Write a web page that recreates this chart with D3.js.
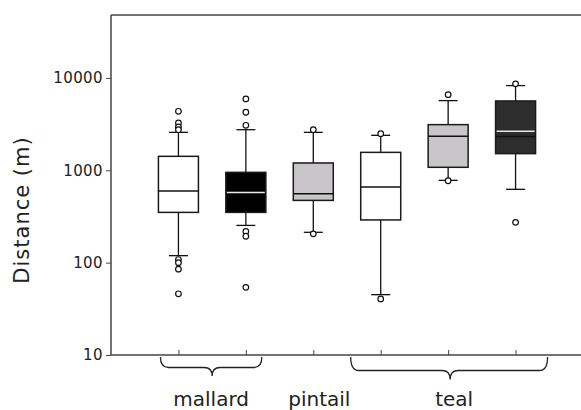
<!DOCTYPE html>
<html>
<head>
<meta charset="utf-8">
<script src="https://cdn.jsdelivr.net/npm/d3@7"></script>
<style>
  html, body { margin: 0; padding: 0; background: #fff; }
  svg { display: block; }
  text { font-family: "DejaVu Sans", Verdana, sans-serif; fill: #222; }
</style>
</head>
<body>
<svg id="chart" width="581" height="410"></svg>
<script>
// ---- data ----
const boxes = ["mallard-1", "mallard-2", "pintail", "teal-1", "teal-2", "teal-3"];
const q1 = [350, 350, 472, 290, 1077, 1514];
const median = [598, 573, 558, 661, 2330, 2320];
const q3 = [1416, 950, 1200, 1563, 3120, 5630];
const whiskerLow = [119, 253, 213, 45, 778, 622];
const whiskerHigh = [2575, 2750, 2575, 2390, 5680, 8260];
const meanLine = [null, 573, null, null, null, 2640];
const outliers = [
  [4350, 3260, 2950, 2750, 108, 100, 85, 46],
  [5930, 4250, 3070, 218, 193, 54],
  [2750, 205],
  [2490, 40.5],
  [6590, 770],
  [8630, 273]
];
const yTicks = [10, 100, 1000, 10000];
const groups = [
  { name: "mallard", from: 0, to: 1 },
  { name: "pintail", from: 2, to: 2 },
  { name: "teal", from: 3, to: 5 }
];
const yTitle = "Distance (m)";

// ---- styles ----
const fills = ["#ffffff", "#000000", "#c8c6c9", "#ffffff", "#c8c6c9", "#2d2d2d"];

const svg = d3.select("#chart");
const pLeft = 111, pRight = 583, pTop = 15, pBottom = 355;

const x = d3.scalePoint().domain(boxes).range([pLeft, pRight]).padding(1);
const y = d3.scaleLog().domain([10, 48000]).range([pBottom, pTop]);

const axisColor = "#444";

// frame lines: top, bottom
svg.append("line").attr("x1", pLeft).attr("x2", 581).attr("y1", pTop).attr("y2", pTop)
  .attr("stroke", axisColor).attr("stroke-width", 1.5);
svg.append("line").attr("x1", pLeft).attr("x2", 581).attr("y1", pBottom).attr("y2", pBottom)
  .attr("stroke", axisColor).attr("stroke-width", 1.5);

// y axis
const yAxis = d3.axisLeft(y).tickValues(yTicks).tickFormat(d3.format("d")).tickSize(5).tickPadding(3);
const gy = svg.append("g").attr("transform", `translate(${pLeft},0)`).call(yAxis);
gy.select(".domain").attr("stroke", axisColor).attr("stroke-width", 1.5).attr("d", `M0,${pTop}V${pBottom}`);
gy.selectAll(".tick line").attr("stroke", axisColor);
gy.selectAll(".tick text").style("font-size", "15px").style("letter-spacing", "0.4px")
  .style("font-family", "'DejaVu Sans', sans-serif").attr("fill", "#222");

// x axis ticks (inward)
const xAxis = d3.axisBottom(x).tickSize(-5).tickFormat("");
const gx = svg.append("g").attr("transform", `translate(0,${pBottom})`).call(xAxis);
gx.select(".domain").remove();
gx.selectAll(".tick line").attr("stroke", axisColor);

// y title
svg.append("text")
  .attr("transform", `translate(29,210) rotate(-90)`)
  .attr("text-anchor", "middle")
  .style("font-size", "21px")
  .style("letter-spacing", "1px")
  .text(yTitle);

// boxes
const bw = 40, cap = 19;
boxes.forEach((b, i) => {
  const cx = x(b);
  const g = svg.append("g");
  g.append("line").attr("x1", cx).attr("x2", cx).attr("y1", y(whiskerHigh[i])).attr("y2", y(q3[i]))
    .attr("stroke", "#111").attr("stroke-width", 1.3);
  g.append("line").attr("x1", cx).attr("x2", cx).attr("y1", y(q1[i])).attr("y2", y(whiskerLow[i]))
    .attr("stroke", "#111").attr("stroke-width", 1.3);
  [whiskerHigh[i], whiskerLow[i]].forEach(v => {
    g.append("line").attr("x1", cx - cap / 2).attr("x2", cx + cap / 2).attr("y1", y(v)).attr("y2", y(v))
      .attr("stroke", "#111").attr("stroke-width", 1.3);
  });
  g.append("rect").attr("x", cx - bw / 2).attr("width", bw)
    .attr("y", y(q3[i])).attr("height", y(q1[i]) - y(q3[i]))
    .attr("fill", fills[i]).attr("stroke", "#1a1a1a").attr("stroke-width", 1.5);
  g.append("line").attr("x1", cx - bw / 2).attr("x2", cx + bw / 2).attr("y1", y(median[i])).attr("y2", y(median[i]))
    .attr("stroke", "#111").attr("stroke-width", 1.5);
  if (meanLine[i] != null) {
    g.append("line").attr("x1", cx - bw / 2 + 1).attr("x2", cx + bw / 2 - 1).attr("y1", y(meanLine[i])).attr("y2", y(meanLine[i]))
      .attr("stroke", "#e8e8e8").attr("stroke-width", 1.5);
  }
  g.selectAll("circle.o").data(outliers[i]).enter().append("circle")
    .attr("class", "o")
    .attr("cx", cx).attr("cy", d => y(d)).attr("r", 2.8)
    .attr("fill", "#fff").attr("stroke", "#111").attr("stroke-width", 1.2);
});

// braces
function brace(x0, x1, xm, y0, y1, y2) {
  const r = 8;
  return `M${x0},${y0} Q${x0},${y1} ${x0 + r},${y1} L${xm - r},${y1} Q${xm},${y1} ${xm},${y2} Q${xm},${y1} ${xm + r},${y1} L${x1 - r},${y1} Q${x1},${y1} ${x1},${y0}`;
}
const braceSpecs = [
  { g: 0, padL: 18, padR: 16, y1: 367.5, y2: 376, shift: 0 },
  { g: 2, padL: 30, padR: 32, y1: 370.5, y2: 379.5, shift: 2 }
];
braceSpecs.forEach(s => {
  const gr = groups[s.g];
  const x0 = x(boxes[gr.from]) - s.padL, x1 = x(boxes[gr.to]) + s.padR;
  const xm = (x(boxes[gr.from]) + x(boxes[gr.to])) / 2 + s.shift;
  svg.append("path").attr("d", brace(x0, x1, xm, 357, s.y1, s.y2))
    .attr("fill", "none").attr("stroke", "#222").attr("stroke-width", 1.3);
});

// group labels
const labelPos = [{ dx: -1, y: 406 }, { dx: 6, y: 406 }, { dx: 6, y: 406 }];
groups.forEach((gr, i) => {
  const cx = (x(boxes[gr.from]) + x(boxes[gr.to])) / 2 + labelPos[i].dx;
  svg.append("text").attr("x", cx).attr("y", labelPos[i].y)
    .attr("text-anchor", "middle").style("font-size", "20px").text(gr.name);
});
</script>
</body>
</html>
